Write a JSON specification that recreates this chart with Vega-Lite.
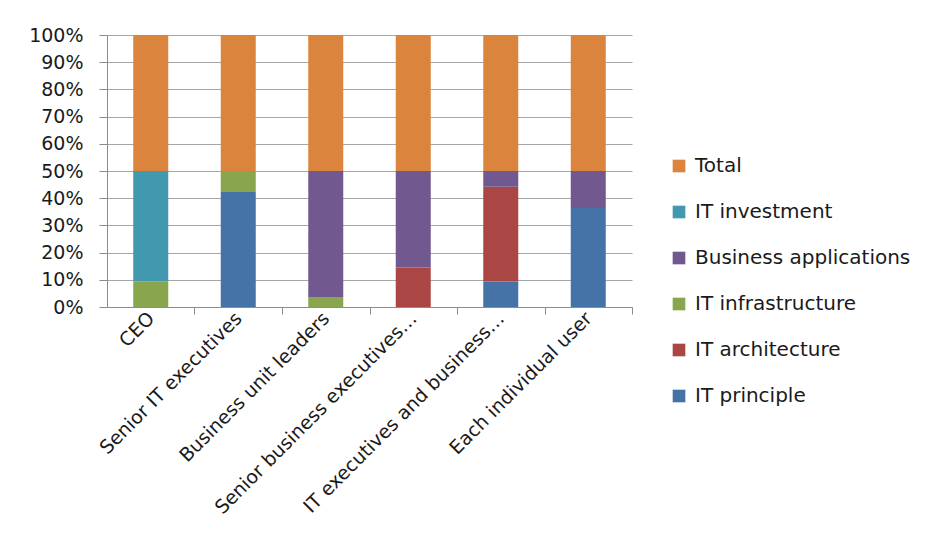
{
  "$schema": "https://vega.github.io/schema/vega-lite/v6.json",
  "width": 525,
  "height": 272,
  "autosize": {"type": "none"},
  "padding": {"left": 107, "top": 35, "right": 299, "bottom": 246},
  "background": "white",
  "config": {
    "view": {"stroke": null},
    "font": "DejaVu Sans",
    "axis": {"labelFont": "DejaVu Sans", "labelColor": "#1a1a1a", "domainColor": "#8c8c8c", "tickColor": "#8c8c8c", "gridColor": "#a6a6a6"},
    "legend": {"labelFont": "DejaVu Sans"}
  },
  "data": {
    "values": [
      {"role": "CEO", "domain": "IT infrastructure", "share": 0.095},
      {"role": "CEO", "domain": "IT investment", "share": 0.405},
      {"role": "CEO", "domain": "Total", "share": 0.5},
      {"role": "Senior IT executives", "domain": "IT principle", "share": 0.423},
      {"role": "Senior IT executives", "domain": "IT infrastructure", "share": 0.077},
      {"role": "Senior IT executives", "domain": "Total", "share": 0.5},
      {"role": "Business unit leaders", "domain": "IT infrastructure", "share": 0.037},
      {"role": "Business unit leaders", "domain": "Business applications", "share": 0.463},
      {"role": "Business unit leaders", "domain": "Total", "share": 0.5},
      {"role": "Senior business executives…", "domain": "IT architecture", "share": 0.145},
      {"role": "Senior business executives…", "domain": "Business applications", "share": 0.355},
      {"role": "Senior business executives…", "domain": "Total", "share": 0.5},
      {"role": "IT executives and business…", "domain": "IT principle", "share": 0.094},
      {"role": "IT executives and business…", "domain": "IT architecture", "share": 0.348},
      {"role": "IT executives and business…", "domain": "Business applications", "share": 0.058},
      {"role": "IT executives and business…", "domain": "Total", "share": 0.5},
      {"role": "Each individual user", "domain": "IT principle", "share": 0.364},
      {"role": "Each individual user", "domain": "Business applications", "share": 0.136},
      {"role": "Each individual user", "domain": "Total", "share": 0.5}
    ]
  },
  "transform": [
    {"calculate": "indexof(['IT principle','IT architecture','IT infrastructure','Business applications','IT investment','Total'], datum.domain)", "as": "seriesOrder"}
  ],
  "mark": {"type": "bar"},
  "encoding": {
    "x": {
      "field": "role",
      "type": "nominal",
      "sort": ["CEO", "Senior IT executives", "Business unit leaders", "Senior business executives…", "IT executives and business…", "Each individual user"],
      "scale": {"paddingInner": 0.6, "paddingOuter": 0.3},
      "axis": {
        "title": null,
        "labelAngle": -45,
        "labelAlign": "right",
        "labelBaseline": "middle",
        "labelFontSize": 19,
        "labelPadding": 1,
        "ticks": true,
        "tickOffset": 43.75,
        "labelOffset": -43.75,
        "tickSize": 7,
        "labelLimit": 400,
        "domainWidth": 1
      }
    },
    "y": {
      "field": "share",
      "type": "quantitative",
      "stack": "normalize",
      "scale": {"domain": [0, 1], "nice": false},
      "axis": {
        "title": null,
        "values": [0, 0.1, 0.2, 0.3, 0.4, 0.5, 0.6, 0.7, 0.8, 0.9, 1],
        "format": ".0%",
        "labelFontSize": 19,
        "tickSize": 8,
        "labelPadding": 16,
        "grid": true
      }
    },
    "order": {"field": "seriesOrder", "type": "quantitative", "sort": "ascending"},
    "color": {
      "field": "domain",
      "type": "nominal",
      "sort": ["Total", "IT investment", "Business applications", "IT infrastructure", "IT architecture", "IT principle"],
      "scale": {
        "domain": ["Total", "IT investment", "Business applications", "IT infrastructure", "IT architecture", "IT principle"],
        "range": ["#DB843D", "#4198AF", "#71588F", "#89A54E", "#AA4643", "#4572A7"]
      },
      "legend": {
        "title": null,
        "orient": "none",
        "legendX": 562,
        "legendY": 121,
        "symbolType": "square",
        "symbolSize": 160,
        "symbolStrokeWidth": 0,
        "labelFontSize": 20,
        "labelLimit": 400,
        "labelColor": "#1a1a1a",
        "rowPadding": 26,
        "labelOffset": 6
      }
    }
  }
}
